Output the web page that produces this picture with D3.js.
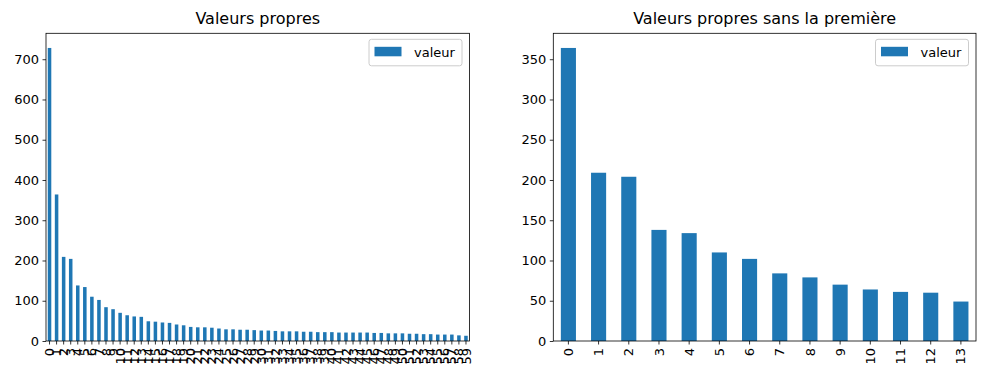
<!DOCTYPE html>
<html>
<head>
<meta charset="utf-8">
<script src="https://cdn.jsdelivr.net/npm/d3@7"></script>
<style>
  body { margin: 0; background: #fff; }
  svg { display: block; font-family: "DejaVu Sans", sans-serif; }
</style>
</head>
<body>
<svg id="chart" width="986" height="378"></svg>
<script>
// eigenvalues, all 60 of them
const allValues = [
  728, 364, 209, 204, 138, 134, 110, 102, 84, 79,
  70, 64, 61, 60, 49, 48, 46, 45, 41, 39,
  35, 34, 34, 33, 31, 29, 29, 28, 28, 27,
  26, 26, 25, 24, 24, 24, 23, 23, 22, 22,
  22, 21, 21, 21, 21, 21, 20, 20, 19, 19,
  19, 18, 18, 17, 17, 16, 16, 16, 14, 13
];
const allLabels = allValues.map((_, i) => String(i));

// same without the first one, first 14 kept
const restValues = [364, 209, 204, 138, 134, 110, 102, 84, 79, 70, 64, 61, 60, 49];
const restLabels = restValues.map((_, i) => String(i));

const leftTicks = [0, 100, 200, 300, 400, 500, 600, 700];
const rightTicks = [0, 50, 100, 150, 200, 250, 300, 350];

const BAR = "#1f77b4";
const svg = d3.select("#chart");

function panel(opts) {
  const { x0, x1, y0, y1, labels, values, ticks, title } = opts;
  const g = svg.append("g");

  const x = d3.scaleBand().domain(labels).range([x0, x1])
    .paddingInner(0.5).paddingOuter(0.25);
  const y = d3.scaleLinear().domain([0, d3.max(values) * 1.05]).range([y1, y0]);

  g.selectAll("rect.bar")
    .data(values)
    .join("rect")
    .attr("class", "bar")
    .attr("x", (d, i) => x(labels[i]))
    .attr("width", x.bandwidth())
    .attr("y", (d) => y(d))
    .attr("height", (d) => y1 - y(d))
    .attr("fill", BAR);

  // y axis
  const ya = g.append("g").attr("transform", `translate(${x0},0)`)
    .call(d3.axisLeft(y).tickValues(ticks).tickSize(3.5).tickPadding(3.5).tickFormat(d3.format("d")));
  ya.select(".domain").remove();
  ya.selectAll("line").attr("stroke", "#000").attr("stroke-width", 0.8);
  ya.selectAll("text").attr("font-size", 13).attr("fill", "#000")
    .attr("font-family", "DejaVu Sans");

  // x axis, labels turned upright
  const xa = g.append("g").attr("transform", `translate(0,${y1})`)
    .call(d3.axisBottom(x).tickSize(3.5).tickPadding(3.5));
  xa.select(".domain").remove();
  xa.selectAll("line").attr("stroke", "#000").attr("stroke-width", 0.8);
  xa.selectAll("text")
    .attr("font-size", 13).attr("fill", "#000").attr("font-family", "DejaVu Sans")
    .attr("text-anchor", "end")
    .attr("y", 0).attr("dy", "0.35em")
    .attr("transform", "translate(0,7) rotate(-90)");

  // frame
  g.append("rect")
    .attr("x", x0).attr("y", y0).attr("width", x1 - x0).attr("height", y1 - y0)
    .attr("fill", "none").attr("stroke", "#000").attr("stroke-width", 0.8);

  g.append("text")
    .attr("x", (x0 + x1) / 2).attr("y", y0 - 9)
    .attr("text-anchor", "middle").attr("font-size", 16).attr("fill", "#000")
    .text(title);

  // legend
  const lw = 93, lh = 26.5;
  const lx = x1 - 7.5 - lw, ly = y0 + 6;
  const leg = g.append("g").attr("transform", `translate(${lx},${ly})`);
  leg.append("rect").attr("width", lw).attr("height", lh).attr("rx", 2.5)
    .attr("fill", "#fff").attr("fill-opacity", 0.8)
    .attr("stroke", "#ccc").attr("stroke-width", 1);
  leg.append("rect").attr("x", 5.5).attr("y", 7.5).attr("width", 27).attr("height", 9.5)
    .attr("fill", BAR);
  leg.append("text").attr("x", 45).attr("y", 17.5).attr("font-size", 13).attr("fill", "#000")
    .text("valeur");
}

panel({ x0: 46, x1: 469.5, y0: 33.3, y1: 341, labels: allLabels, values: allValues,
        ticks: leftTicks, title: "Valeurs propres" });
panel({ x0: 553.3, x1: 976, y0: 33.3, y1: 341, labels: restLabels, values: restValues,
        ticks: rightTicks, title: "Valeurs propres sans la première" });
</script>
</body>
</html>
